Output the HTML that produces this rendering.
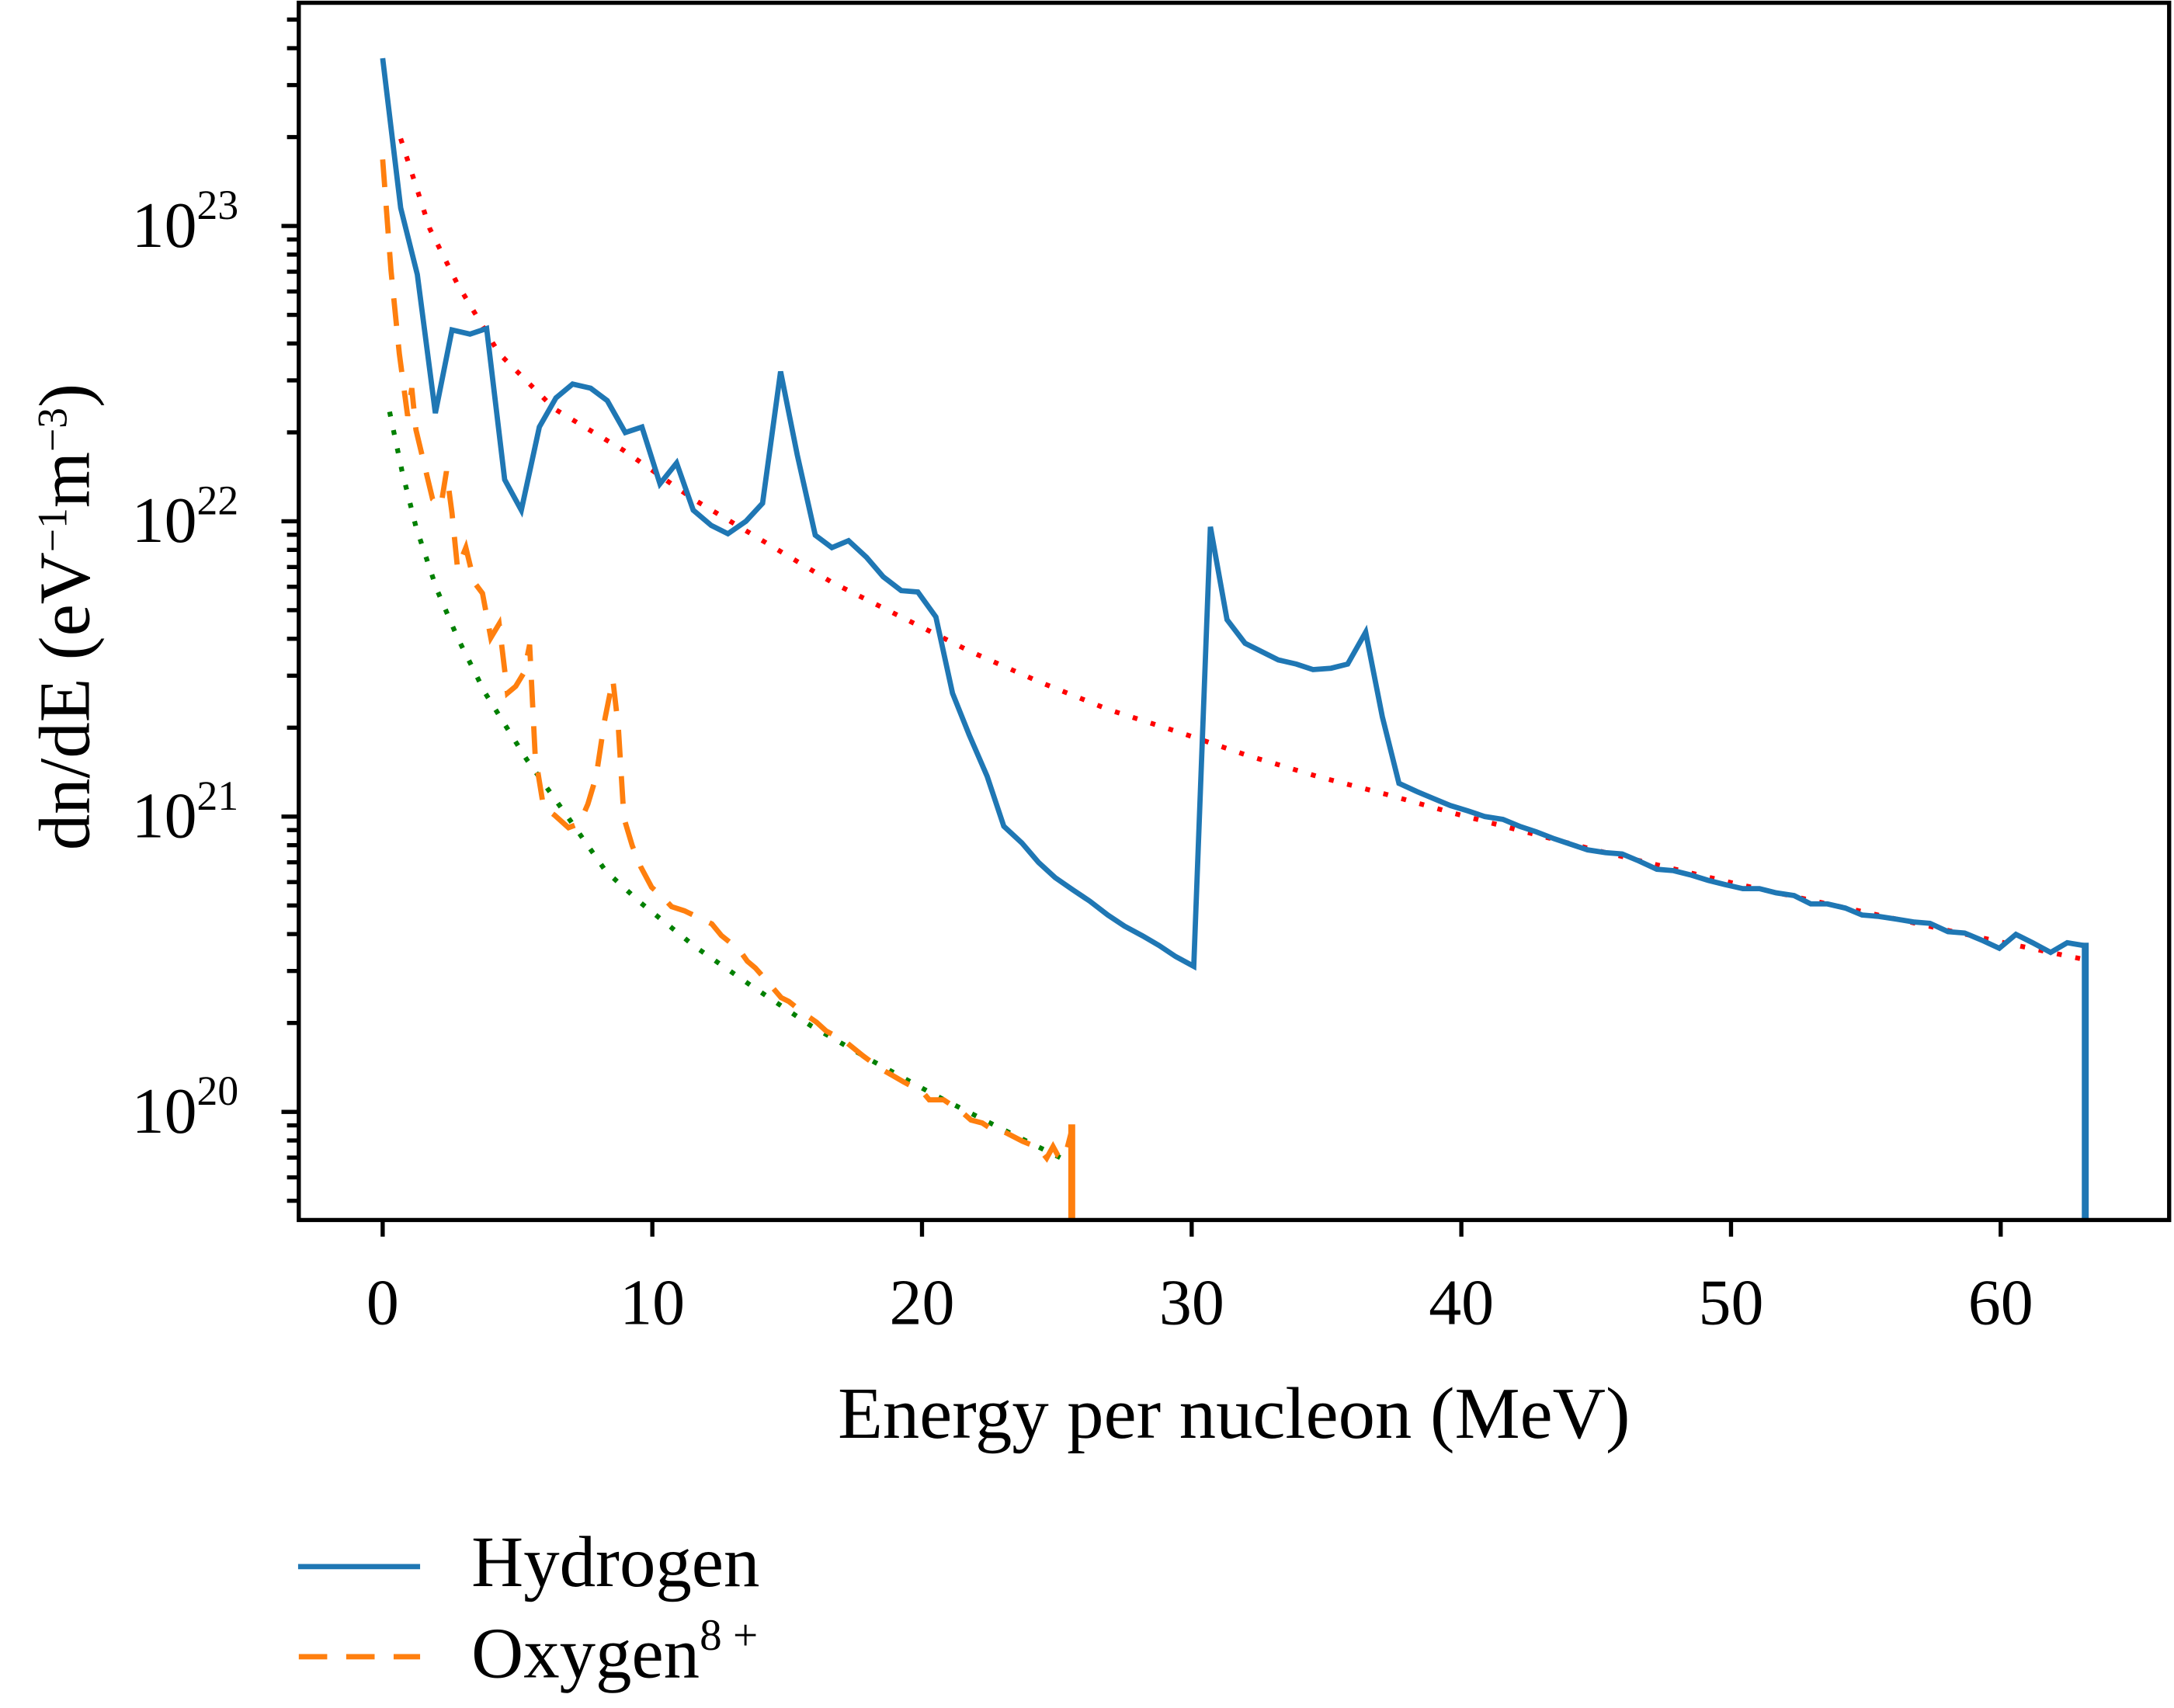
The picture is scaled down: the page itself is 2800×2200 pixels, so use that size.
<!DOCTYPE html>
<html><head><meta charset="utf-8"><style>html,body{margin:0;padding:0;background:#fff}svg{display:block}</style></head>
<body>
<svg id="s" width="2800" height="2200" viewBox="0 0 1568 1232" preserveAspectRatio="none" xmlns="http://www.w3.org/2000/svg" font-family="Liberation Serif, serif">
<g id="ticks" stroke="#000" stroke-width="3"></g>
<!-- red dotted -->
<polyline fill="none" stroke="#ff0000" stroke-width="3.5" stroke-dasharray="3.5,10" points="289,100 310,165 330,205 360,255 400,295 450,325 500,360 550,390 600,420 650,445 700,470 750,492 800,512 850,528 900,545 950,560 1000,573 1050,587 1100,600 1150,613 1200,625 1250,637 1300,648 1350,659 1400,670 1450,681 1503,692"/>
<!-- green dotted -->
<polyline fill="none" stroke="#008000" stroke-width="3.5" stroke-dasharray="3.5,10" points="281,297 290,340 300,380 315,425 330,460 350,500 380,548 410,590 436.8,628.2 462.3,651.4 501.8,683.2 543.6,712.2 585.4,740.2 629.5,765.4 673.7,789.6 720,813 765.4,835.4"/>
<!-- hydrogen -->
<polyline fill="none" stroke="#1f77b4" stroke-width="3.8" stroke-linejoin="miter" points="276,42 289,150 301,198 314,298 326,238 339,241 351,237 364,346 376,368 389,308 401,287 413,277 426,280 438,289 451,312 463,308 476,349 488,334 500,368 513,379 525,385 538,376 550,363 563,268 575,328 588,386 600,395 612,390 625,402 637,416 650,426 662,427 675,445 687,500 699,530 712,560 724,596 737,608 749,622 761,633 774,642 786,650 799,660 811,668 824,675 836,682 848,690 861,697 873,380 885,447 898,464 910,470 922,476 935,479 947,483 960,482 972,479 985,456 997,517 1009,565 1022,571 1034,576 1046,581 1059,585 1071,589 1084,591 1096,596 1108,600 1121,605 1133,609 1145,613 1158,615 1170,616 1182,621 1195,627 1207,628 1219,631 1232,635 1244,638 1257,641 1269,641 1281,644 1294,646 1306,652 1318,652 1331,655 1343,660 1355,661 1368,663 1380,665 1392,666 1405,672 1417,673 1429,678 1442,684 1454,674 1466,680 1479,687 1491,680 1503,682"/>
<line x1="1504" y1="680" x2="1504" y2="880" stroke="#1f77b4" stroke-width="5"/>
<!-- oxygen -->
<polyline fill="none" stroke="#ff7f0e" stroke-width="3.8" stroke-dasharray="20,13.5" points="276,115 282,195 288,255 294,300 297,280 300,310 306,335 312,360 318,365 322,340 326,370 330,410 336,395 342,420 348,428 354,460 360,450 366,500 372,495 378,485 382,465 386,545 392,582 400,588 410,597 418,594 424,580 430,560 436,520 442,490 446,525 450,590 456,610 462,625 470,640 478.6,647.7 484.4,654 493.7,657 513.4,666.4 520.3,674.8 533.1,685 539,693.3 544.8,698.2 555.2,710 563.4,719.6 569,722.4 580.7,731.7 588.9,737.3 595.9,743.7 608.6,750.4 622.5,761.6 635.3,771 643.5,775.6 651.6,780.3 665.5,787.7 670.2,793.3 680.6,793.3 693.3,801.7 700.3,807.9 708.4,810 720,817.6 724.7,816.6 737.5,823.2 749,827.9 754.9,835.3 759.5,827 763,833.4 767.7,836 773.4,813.7"/>
<line x1="773" y1="811" x2="773" y2="880" stroke="#ff7f0e" stroke-width="5"/>
<!-- frame -->
<rect x="215.5" y="2" width="1349" height="878" fill="none" stroke="#000" stroke-width="3"/>
<g font-size="47" fill="#000">
<text x="95" y="178">10<tspan font-size="30" dy="-20">23</tspan></text>
<text x="95" y="391">10<tspan font-size="30" dy="-20">22</tspan></text>
<text x="95" y="604">10<tspan font-size="30" dy="-20">21</tspan></text>
<text x="95" y="817">10<tspan font-size="30" dy="-20">20</tspan></text>
</g>
<g font-size="47" fill="#000" text-anchor="middle" id="xl"></g>
<text x="890" y="1037" font-size="53" text-anchor="middle">Energy per nucleon (MeV)</text>
<text transform="translate(64,445) rotate(-90)" font-size="52" text-anchor="middle">dn/dE (eV<tspan font-size="30" dy="-16">−1</tspan><tspan dy="16">m</tspan><tspan font-size="30" dy="-16">−3</tspan><tspan dy="16">)</tspan></text>
<line x1="215" y1="1130" x2="303" y2="1130" stroke="#1f77b4" stroke-width="3.8"/>
<line x1="215.5" y1="1195" x2="303" y2="1195" stroke="#ff7f0e" stroke-width="3.8" stroke-dasharray="20.5,13.7"/>
<text x="340" y="1144" font-size="52">Hydrogen</text>
<text x="340" y="1210" font-size="52">Oxygen<tspan font-size="32" dy="-20">8 +</tspan></text>
</svg>
<script>
var ns="http://www.w3.org/2000/svg",g=document.getElementById('ticks'),xl=document.getElementById('xl');
function ln(x1,y1,x2,y2){var l=document.createElementNS(ns,'line');l.setAttribute('x1',x1);l.setAttribute('y1',y1);l.setAttribute('x2',x2);l.setAttribute('y2',y2);g.appendChild(l);}
for(var d=19;d<=23;d++){for(var m=1;m<=9;m++){var y=802-(d+Math.log10(m)-20)*213;if(y<3||y>879)continue;ln(m==1?203:207,y,215,y);}}
for(var i=0;i<=6;i++){var x=276+i*194.5;ln(x,880,x,892);var t=document.createElementNS(ns,'text');t.setAttribute('x',x);t.setAttribute('y',955);t.textContent=String(i*10);xl.appendChild(t);}
</script>
</body></html>
